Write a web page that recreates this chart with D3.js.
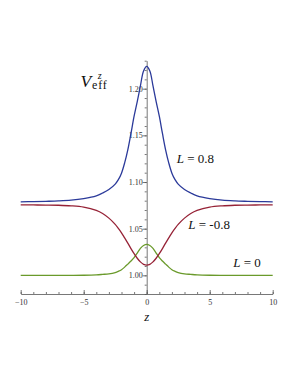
<!DOCTYPE html>
<html>
<head>
<meta charset="utf-8">
<script src="https://cdn.jsdelivr.net/npm/d3@7"></script>
<style>
  body { margin: 0; background: #fff; }
  svg { display: block; font-family: "Liberation Serif", "DejaVu Serif", serif; }
  .axis text { font-size: 8px; fill: #333; font-family: "Liberation Serif", serif; }
  .axis path, .axis line { stroke: #555; stroke-width: 0.8; }
</style>
</head>
<body>
<div id="chart"></div>
<script>
// z grid, shared by the three curves
const zs = [-10, -9, -8, -7, -6, -5, -4, -3.5, -3, -2.5, -2.25, -2, -1.75, -1.5, -1.25, -1, -0.75, -0.5, -0.25,
  0, 0.25, 0.5, 0.75, 1, 1.25, 1.5, 1.75, 2, 2.25, 2.5, 3, 3.5, 4, 5, 6, 7, 8, 9, 10];

// L = 0.8 (blue)
const vPos = [1.0788, 1.0790, 1.0793, 1.0797, 1.0805, 1.0822, 1.0852, 1.0882, 1.0920, 1.0978, 1.1025, 1.1095, 1.1205, 1.1345, 1.1520, 1.1705, 1.1862, 1.2030, 1.2190,
  1.2240, 1.2190, 1.2030, 1.1862, 1.1705, 1.1520, 1.1345, 1.1205, 1.1095, 1.1025, 1.0978, 1.0920, 1.0882, 1.0852, 1.0822, 1.0805, 1.0797, 1.0793, 1.0790, 1.0788];

// L = -0.8 (red)
const vNeg = [1.0755, 1.0754, 1.0753, 1.0751, 1.0745, 1.0731, 1.0696, 1.0663, 1.0613, 1.0546, 1.0503, 1.0456, 1.0401, 1.0345, 1.0287, 1.0232, 1.0183, 1.0144, 1.0118,
  1.0110, 1.0118, 1.0144, 1.0183, 1.0232, 1.0287, 1.0345, 1.0401, 1.0456, 1.0503, 1.0546, 1.0613, 1.0663, 1.0696, 1.0731, 1.0745, 1.0751, 1.0753, 1.0754, 1.0755];

// L = 0 (green)
const vZero = [1.0000, 1.0000, 1.0000, 1.0000, 1.0000, 1.0001, 1.0005, 1.0010, 1.0016, 1.0030, 1.0043, 1.0060, 1.0088, 1.0120, 1.0153, 1.0190, 1.0239, 1.0289, 1.0320,
  1.0332, 1.0320, 1.0289, 1.0239, 1.0190, 1.0153, 1.0120, 1.0088, 1.0060, 1.0043, 1.0030, 1.0016, 1.0010, 1.0005, 1.0001, 1.0000, 1.0000, 1.0000, 1.0000, 1.0000];

const xTicks = [-10, -5, 0, 5, 10];
const yTicks = [1.00, 1.05, 1.10, 1.15, 1.20];

const width = 298, height = 385;

const svg = d3.select("#chart").append("svg")
  .attr("width", width)
  .attr("height", height);

const x = d3.scaleLinear().domain([-10, 10]).range([20.7, 272.7]);
const y = d3.scaleLinear().domain([0.98, 1.23]).range([294, 60.7]);

// minor ticks
svg.append("g")
  .attr("class", "axis")
  .attr("transform", "translate(0," + y(0.98) + ")")
  .call(d3.axisBottom(x).tickValues(d3.range(-10, 11, 1)).tickSizeInner(-2).tickSizeOuter(0).tickFormat(""))
  .select(".domain").remove();

svg.append("g")
  .attr("class", "axis")
  .attr("transform", "translate(" + x(0) + ",0)")
  .call(d3.axisLeft(y).tickValues(d3.range(0.98, 1.2301, 0.01)).tickSizeInner(2).tickSizeOuter(0).tickFormat(""))
  .select(".domain").remove();

// major ticks + axis lines
svg.append("g")
  .attr("class", "axis")
  .attr("transform", "translate(0," + y(0.98) + ")")
  .call(d3.axisBottom(x).tickValues(xTicks).tickSizeInner(-4).tickSizeOuter(0).tickPadding(5)
    .tickFormat(d => d < 0 ? "\u2212" + Math.abs(d) : d));

svg.append("g")
  .attr("class", "axis")
  .attr("transform", "translate(" + x(0) + ",0)")
  .call(d3.axisLeft(y).tickValues(yTicks).tickSizeInner(4).tickSizeOuter(0).tickPadding(0)
    .tickFormat(d3.format(".2f")));

const line = d3.line()
  .x((d, i) => x(zs[i]))
  .y(d => y(d))
  .curve(d3.curveCatmullRom.alpha(0.5));

const series = [
  {vals: vZero, color: "#6a9a2b"},
  {vals: vNeg, color: "#962236"},
  {vals: vPos, color: "#2b3a9a"}
];

svg.selectAll("path.curve")
  .data(series)
  .enter().append("path")
  .attr("class", "curve")
  .attr("fill", "none")
  .attr("stroke", d => d.color)
  .attr("stroke-width", 1.3)
  .attr("d", d => line(d.vals));

// curve labels
function label(xp, yp, txt) {
  const t = svg.append("text")
    .attr("x", xp).attr("y", yp)
    .style("font-size", "13px")
    .attr("fill", "#111");
  t.append("tspan").style("font-style", "italic").text("L");
  t.append("tspan").text(txt);
}
label(176.7, 163, " = 0.8");
label(188.3, 229.3, " = -0.8");
label(233.3, 266.7, " = 0");

// V_eff^z as one text
const vt = svg.append("text").attr("x", 80.5).attr("y", 86.7).attr("fill", "#111");
vt.append("tspan").style("font-size", "17.5px").style("font-style", "italic").text("V");
vt.append("tspan").attr("dx", 6.5).attr("dy", -8.2)
  .style("font-size", "10px").style("font-style", "italic").text("z");
vt.append("tspan").attr("dx", -9.5).attr("dy", 10)
  .style("font-size", "12px").style("letter-spacing", "0.8px").text("eff");

// x axis title
svg.append("text").attr("x", x(0)).attr("y", 321)
  .attr("text-anchor", "middle")
  .style("font-size", "13px").style("font-style", "italic").attr("fill", "#111").text("z");
</script>
</body>
</html>
